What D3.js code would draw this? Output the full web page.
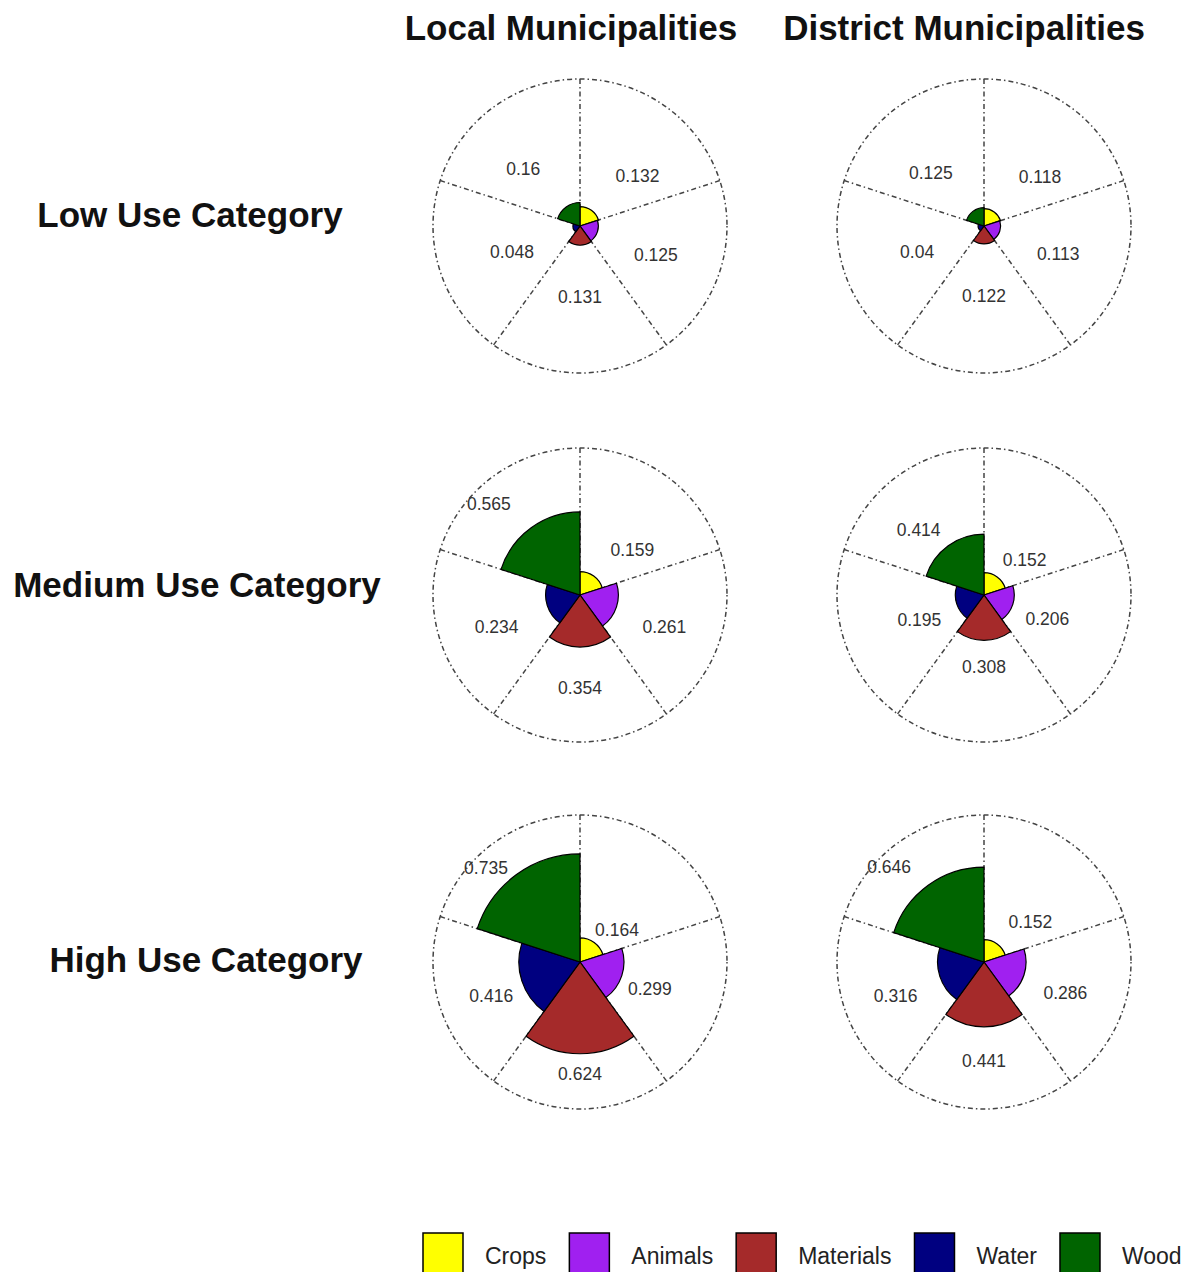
<!DOCTYPE html>
<html>
<head>
<meta charset="utf-8">
<script src="https://cdn.jsdelivr.net/npm/d3@7"></script>
<style>
  body { margin: 0; background: #fff; }
  svg { display: block; font-family: Arial, "Liberation Sans", sans-serif; }
</style>
</head>
<body>
<div id="chart"></div>
<script>
// data
const categories = ["Crops", "Animals", "Materials", "Water", "Wood"];
const localLow = [0.132, 0.125, 0.131, 0.048, 0.16];
const localMedium = [0.159, 0.261, 0.354, 0.234, 0.565];
const localHigh = [0.164, 0.299, 0.624, 0.416, 0.735];
const districtLow = [0.118, 0.113, 0.122, 0.04, 0.125];
const districtMedium = [0.152, 0.206, 0.308, 0.195, 0.414];
const districtHigh = [0.152, 0.286, 0.441, 0.316, 0.646];
const colTitles = ["Local Municipalities", "District Municipalities"];
const rowTitles = ["Low Use Category", "Medium Use Category", "High Use Category"];

const fillColors = ["#ffff00", "#a020f0", "#a52a2a", "#000080", "#006400"];

const width = 1193, height = 1272;
const outerR = 147;
const colX = [580, 984];
const rowY = [226, 595, 962];
const colTitleX = [571, 964];
const rowTitleX = [190, 197, 206];
const rowTitleY = [227, 597, 972];

// how far labels sit out from their wedge (value units), per panel
const panels = [
  {col: 0, row: 0, values: localLow, labelPad: 0.40},
  {col: 0, row: 1, values: localMedium, labelPad: 0.326},
  {col: 0, row: 2, values: localHigh, labelPad: 0.183},
  {col: 1, row: 0, values: districtLow, labelPad: 0.40},
  {col: 1, row: 1, values: districtMedium, labelPad: 0.228},
  {col: 1, row: 2, values: districtHigh, labelPad: 0.28}
];
// small nudges so labels land where the original put them
const labelTurn = [13, 3, 0, -3, -9];   // degrees
const labelShift = [-2, 4, -7, 7, -2];  // px

const svg = d3.select("#chart")
  .append("svg")
  .attr("width", width)
  .attr("height", height);

const rScale = d3.scaleLinear().domain([0, 1]).range([0, outerR]);
const angle = d3.scaleBand().domain(categories).range([0, 2 * Math.PI]);
const color = d3.scaleOrdinal().domain(categories).range(fillColors);

const arc = d3.arc()
  .innerRadius(0)
  .outerRadius(d => rScale(d.value))
  .startAngle(d => angle(d.cat))
  .endAngle(d => angle(d.cat) + angle.bandwidth());

// column titles
svg.selectAll(".col-title")
  .data(colTitles)
  .join("text")
  .attr("class", "col-title")
  .attr("x", (d, i) => colTitleX[i])
  .attr("y", 40)
  .attr("text-anchor", "middle")
  .attr("font-size", 35)
  .attr("font-weight", "bold")
  .attr("fill", "#111")
  .text(d => d);

// row titles
svg.selectAll(".row-title")
  .data(rowTitles)
  .join("text")
  .attr("class", "row-title")
  .attr("x", (d, i) => rowTitleX[i])
  .attr("y", (d, i) => rowTitleY[i])
  .attr("text-anchor", "middle")
  .attr("font-size", 35)
  .attr("font-weight", "bold")
  .attr("fill", "#111")
  .text(d => d);

panels.forEach(p => {
  const g = svg.append("g")
    .attr("transform", `translate(${colX[p.col]},${rowY[p.row]})`);
  const rows = categories.map((c, i) => ({cat: c, value: p.values[i], i: i}));

  // outer dot-dash ring
  g.append("circle")
    .attr("r", rScale(1))
    .attr("fill", "none")
    .attr("stroke", "#444")
    .attr("stroke-width", 1.5)
    .attr("stroke-dasharray", "1.5,3,5,3");

  // spokes at sector boundaries
  g.selectAll(".spoke")
    .data(categories)
    .join("line")
    .attr("class", "spoke")
    .attr("x1", 0).attr("y1", 0)
    .attr("x2", d => rScale(1) * Math.sin(angle(d)))
    .attr("y2", d => -rScale(1) * Math.cos(angle(d)))
    .attr("stroke", "#444")
    .attr("stroke-width", 1.5)
    .attr("stroke-dasharray", "1.5,3,5,3");

  // wedges
  g.selectAll(".wedge")
    .data(rows)
    .join("path")
    .attr("class", "wedge")
    .attr("d", arc)
    .attr("fill", d => color(d.cat))
    .attr("stroke", "#000")
    .attr("stroke-width", 1.2);

  // value labels
  g.selectAll(".val")
    .data(rows)
    .join("text")
    .attr("class", "val")
    .attr("transform", d => {
      const a = angle(d.cat) + angle.bandwidth() / 2 + labelTurn[d.i] * Math.PI / 180;
      const r = rScale(d.value + p.labelPad) + labelShift[d.i];
      return `translate(${r * Math.sin(a)},${-r * Math.cos(a)})`;
    })
    .attr("text-anchor", "middle")
    .attr("dominant-baseline", "central")
    .attr("font-size", 17.5)
    .attr("fill", "#333")
    .text(d => String(d.value));
});

// legend along the bottom
const legend = svg.append("g");
let lx = 423;
categories.forEach((c, i) => {
  legend.append("rect")
    .attr("x", lx)
    .attr("y", 1233)
    .attr("width", 40)
    .attr("height", 40)
    .attr("fill", color(c))
    .attr("stroke", "#000")
    .attr("stroke-width", 1.5);
  const t = legend.append("text")
    .attr("x", lx + 62)
    .attr("y", 1264)
    .attr("font-size", 23)
    .attr("fill", "#222")
    .text(c);
  lx = lx + 62 + t.node().getComputedTextLength() + 23;
});
</script>
</body>
</html>
